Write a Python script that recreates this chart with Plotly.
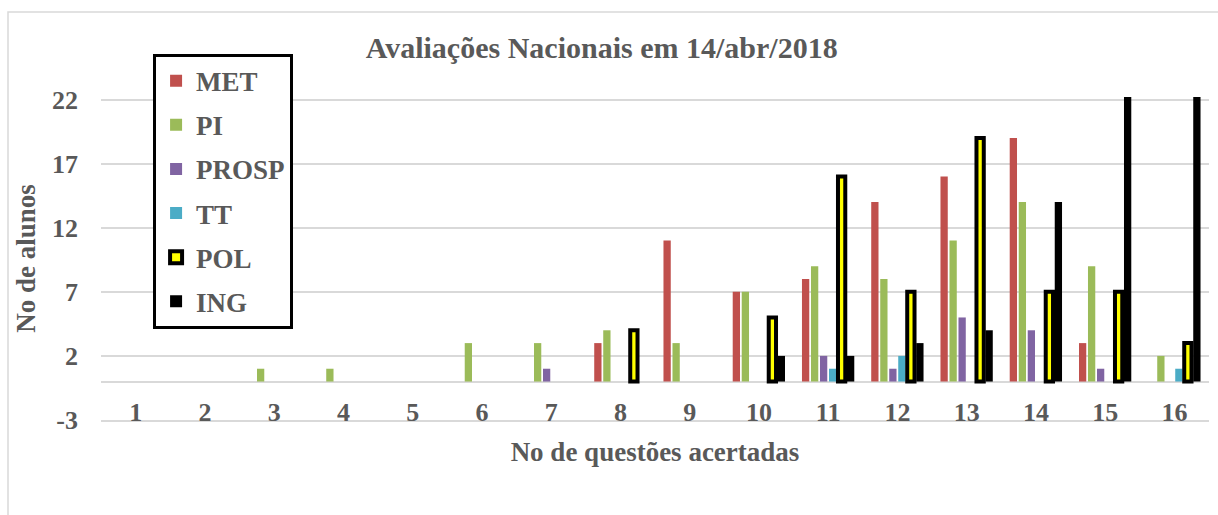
import plotly.graph_objects as go

categories = [str(i) for i in range(1, 17)]
met = [0, 0, 0, 0, 0, 0, 0, 3, 11, 7, 8, 14, 16, 19, 3, 0]
pi = [0, 0, 1, 1, 0, 3, 3, 4, 3, 7, 9, 8, 11, 14, 9, 2]
prosp = [0, 0, 0, 0, 0, 0, 1, 0, 0, 0, 2, 1, 5, 4, 1, 0]
tt = [0, 0, 0, 0, 0, 0, 0, 0, 0, 0, 1, 2, 0, 0, 0, 1]
pol = [0, 0, 0, 0, 0, 0, 0, 4, 0, 5, 16, 7, 19, 7, 7, 3]
ing = [0, 0, 0, 0, 0, 0, 0, 0, 0, 2, 2, 3, 4, 14, 23, 23]
y_ticks = [-3, 2, 7, 12, 17, 22]
y_tick_labels = ["-3", "2", "7", "12", "17", "22"]

FONT = "Liberation Serif"
TXT = "#595959"
GRID = "#D9D9D9"

series = [
    ("MET", met, "#C0504D", None),
    ("PI", pi, "#9BBB59", None),
    ("PROSP", prosp, "#8064A2", None),
    ("TT", tt, "#4BACC6", None),
    ("POL", pol, "#FFFF00", dict(color="#000000", width=4)),
    ("ING", ing, "#000000", None),
]

fig = go.Figure()
for name, vals, color, line in series:
    marker = dict(color=color)
    marker["line"] = line if line else dict(width=0)
    fig.add_trace(go.Bar(
        name=name, x=categories, y=[v if v else None for v in vals],
        marker=marker, legendgroup=name,
    ))

fig.update_layout(
    width=1218, height=515,
    margin=dict(l=101, r=9, t=97, b=95, autoexpand=False),
    paper_bgcolor="white", plot_bgcolor="white",
    barmode="group", bargap=0.22, bargroupgap=0.19,
    font=dict(family=FONT, color=TXT, size=26, weight="bold"),
    title=dict(text="Avaliações Nacionais em 14/abr/2018",
               x=0.494, xanchor="center", xref="container",
               y=1 - 47 / 515, yanchor="middle", yref="container",
               font=dict(family=FONT, size=30, color=TXT, weight="bold")),
    legend=dict(x=0.0470, xanchor="left", y=1.134, yanchor="top",
                bgcolor="white", bordercolor="#000000", borderwidth=3,
                font=dict(family=FONT, size=27, color=TXT, weight="bold"),
                traceorder="grouped", tracegroupgap=6, maxheight=480),
    xaxis=dict(type="category", showgrid=False, showline=True, linecolor=GRID, linewidth=1.5,
               ticks="", tickfont=dict(family=FONT, size=26, color=TXT, weight="bold"),
               ticklabelstandoff=-32,
               title=dict(text="No de questões acertadas", standoff=16,
                          font=dict(family=FONT, size=27, color=TXT, weight="bold"))),
    yaxis=dict(range=[-3, 22.2], tickvals=y_ticks, ticktext=y_tick_labels,
               showgrid=True, gridcolor=GRID, gridwidth=1.5,
               zeroline=True, zerolinecolor=GRID, zerolinewidth=1.5,
               ticks="", ticklabelstandoff=22,
               tickfont=dict(family=FONT, size=26, color=TXT, weight="bold"),
               title=dict(text="No de alunos", standoff=8,
                          font=dict(family=FONT, size=27, color=TXT, weight="bold"))),
    shapes=[dict(type="rect", xref="paper", yref="paper",
                 x0=(8 - 101) / 1108, x1=(1230 - 101) / 1108,
                 y0=(420 - 540) / 323, y1=(420 - 12) / 323,
                 line=dict(color=GRID, width=1.5), fillcolor="rgba(0,0,0,0)", layer="below")],
)

fig.write_html("out.html", config={"displayModeBar": False},
               post_script="document.body.style.margin='0';document.body.style.overflow='hidden';")
